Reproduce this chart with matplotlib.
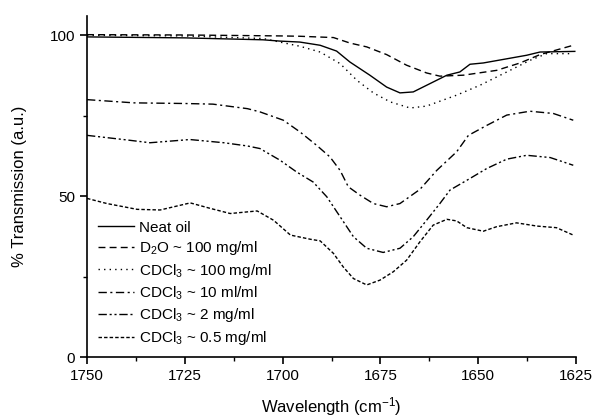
import numpy as np
import matplotlib.pyplot as plt
from matplotlib.ticker import MultipleLocator

plt.rcParams['font.family'] = ['Liberation Sans', 'DejaVu Sans']
plt.rcParams['mathtext.default'] = 'regular'

# values
WnNeat = [1750, 1725, 1705, 1700.7, 1695.6, 1690.4, 1686.2, 1682.8, 1677.7, 1673.4, 1670, 1666.6, 1662.3,
          1658, 1654.7, 1652.1, 1648.7, 1643.6, 1637.6, 1634.2, 1625.3]
TrNeat = [99.5, 99.2, 98.6, 98.2, 97.9, 96.9, 95.1, 91.7, 87.6, 83.9, 82.1, 82.4, 85,
          87.6, 88.6, 91, 91.4, 92.5, 93.8, 94.8, 95]

WnD2O = [1750, 1725, 1700, 1695.6, 1687, 1682.8, 1678.5, 1673.4, 1668.3, 1663.2, 1659.8, 1653.8, 1645.3,
         1639.3, 1634.2, 1625.7]
TrD2O = [100.2, 100.1, 99.8, 99.7, 99.3, 97.6, 96.4, 94, 90.7, 88.3, 87.3, 87.6, 89.1,
         91.4, 94, 96.9]

WnC100 = [1750, 1725, 1705, 1700.7, 1695.6, 1690.4, 1685.3, 1681, 1676.8, 1672.5, 1667.4, 1663.2, 1658,
          1655.5, 1649.5, 1642.7, 1636.8, 1632.5, 1625.7]
TrC100 = [100, 99.8, 99, 97.9, 96.6, 94.8, 91.2, 86, 82.1, 79.3, 77.4, 78, 80.3,
          81.4, 84.5, 88.6, 92.2, 94.3, 94.3]

WnC10 = [1750, 1738, 1725, 1717.8, 1709, 1705.8, 1699.8, 1695.6, 1691.3, 1687.9, 1685.3, 1683.2, 1680.2,
         1676.8, 1673.4, 1670, 1664.9, 1660.6, 1655.5, 1652.5, 1647.8, 1642.7, 1636.8, 1630.8, 1625.7]
TrC10 = [80, 79, 78.8, 78.6, 77.2, 76.2, 73.6, 70, 65.8, 62.2, 58, 52.9, 50.3,
         47.7, 46.7, 47.7, 52.1, 58, 63.8, 68.9, 72, 75.2, 76.4, 75.7, 73.6]

WnC2 = [1750, 1740, 1733.9, 1723.7, 1715, 1709, 1705.8, 1700.7, 1696.4, 1692.2, 1688.7, 1685.3, 1681.9,
        1678.5, 1674.3, 1670, 1666.6, 1663.2, 1659.8, 1657.2, 1652.1, 1647.8, 1642.7, 1637.6, 1631.6, 1625.7]
TrC2 = [68.9, 67.5, 66.6, 67.6, 66.6, 65.6, 64.8, 61.2, 57.5, 54.4, 49.8, 43.6, 37.4,
        33.8, 32.5, 33.8, 37.4, 42.5, 47.7, 51.9, 55.5, 58.6, 61.5, 62.7, 62, 59.6]

WnC05 = [1750, 1744.9, 1737.2, 1731.3, 1723.6, 1718.5, 1713.4, 1706.5, 1702.3, 1698, 1692.9, 1690.4, 1687,
         1684.5, 1681.9, 1678.5, 1675.1, 1671.7, 1668.3, 1664.9, 1661.5, 1658, 1655.5, 1652.9, 1648.7,
         1645.3, 1640.2, 1635, 1630, 1625.7]
TrC05 = [49.3, 47.7, 45.9, 45.7, 47.9, 46.2, 44.6, 45.4, 42.5, 37.9, 36.6, 36.1, 32.2,
         28, 24.4, 22.4, 23.9, 26.5, 30.1, 35.8, 41, 42.8, 42.3, 40.2, 39.1,
         40.5, 41.7, 40.7, 40.2, 37.9]

Labels = ['Neat oil', 'D$_2$O ~ 100 mg/ml', 'CDCl$_3$ ~ 100 mg/ml',
          'CDCl$_3$ ~ 10 ml/ml', 'CDCl$_3$ ~ 2 mg/ml', 'CDCl$_3$ ~ 0.5 mg/ml']

fig = plt.figure(figsize=(5.94, 4.19), dpi=100)
ax = fig.add_axes([87/594, 1-357/419, 489/594, 341/419])

ax.plot(WnNeat, TrNeat, color='black', lw=1.0, ls='-', label=Labels[0])
ax.plot(WnD2O, TrD2O, color='black', lw=1.0, ls=(0, (5, 3)), label=Labels[1])
ax.plot(WnC100, TrC100, color='black', lw=1.0, ls=(0, (1, 3)), label=Labels[2])
ax.plot(WnC10, TrC10, color='black', lw=1.0, ls=(0, (6, 2.5, 1.5, 2.5)), label=Labels[3])
ax.plot(WnC2, TrC2, color='black', lw=1.0, ls=(0, (6, 2, 1.5, 2, 1.5, 2)), label=Labels[4])
ax.plot(WnC05, TrC05, color='black', lw=1.0, ls=(0, (2.5, 1.5)), label=Labels[5])

ax.set_xlim(1750, 1625)
ax.set_ylim(0, 106)
ax.spines['top'].set_visible(False)
ax.spines['right'].set_visible(False)
ax.spines['left'].set_linewidth(1.2)
ax.spines['bottom'].set_linewidth(1.2)
ax.xaxis.set_major_locator(MultipleLocator(25))
ax.xaxis.set_minor_locator(MultipleLocator(12.5))
ax.yaxis.set_major_locator(MultipleLocator(50))
ax.yaxis.set_minor_locator(MultipleLocator(25))
ax.tick_params(which='major', direction='out', length=5, width=1.2, labelsize=11)
ax.tick_params(which='minor', direction='out', length=3, width=1.0)

ax.set_xlabel('Wavelength (cm$^{-1}$)', fontsize=12, labelpad=9)
ax.set_ylabel('% Transmission (a.u.)', fontsize=12, labelpad=16)

ax.legend(loc='lower left', bbox_to_anchor=(0.0, -0.002), frameon=False, fontsize=11,
          handlelength=2.35, handletextpad=0.33, labelspacing=0.3, borderaxespad=0.3)

plt.savefig('out.png', dpi=100)
